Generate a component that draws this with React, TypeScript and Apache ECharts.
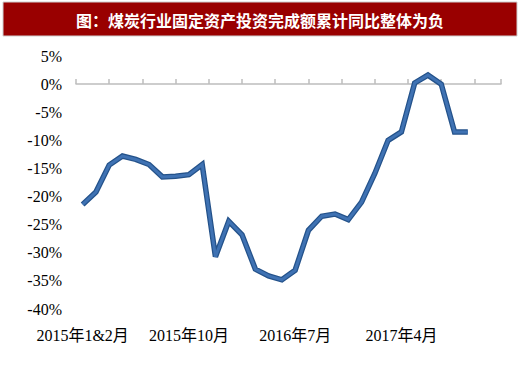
import React, { useEffect, useRef } from "react";
import * as echarts from "echarts";

const titleText = "图：煤炭行业固定资产投资完成额累计同比整体为负";

const months = [
  "2015年1&2月", "2015年3月", "2015年4月", "2015年5月", "2015年6月", "2015年7月",
  "2015年8月", "2015年9月", "2015年10月", "2015年11月", "2015年12月",
  "2016年1&2月", "2016年3月", "2016年4月", "2016年5月", "2016年6月", "2016年7月",
  "2016年8月", "2016年9月", "2016年10月", "2016年11月", "2016年12月",
  "2017年1&2月", "2017年3月", "2017年4月", "2017年5月", "2017年6月", "2017年7月",
  "2017年8月", "2017年9月",
];

const growth = [
  -21.4, -19.2, -14.4, -12.8, -13.4, -14.3, -16.5, -16.4, -16.1, -14.3,
  -30.7, -24.4, -26.8, -32.9, -34.1, -34.8, -33.1, -26.0, -23.5, -23.1,
  -24.1, -21.0, -15.9, -10.0, -8.5, 0.2, 1.6, 0.0, -8.5, -8.5,
];

const yMin = -40;
const yMax = 5;
const yStep = 5;

const serif = "'Liberation Serif', 'Times New Roman', 'Noto Sans CJK SC', serif";

export default function App() {
  const ref = useRef<HTMLDivElement>(null);

  useEffect(() => {
    if (!ref.current) return;
    const chart = echarts.init(ref.current, undefined, { renderer: "svg" });
    chart.setOption({
      animation: false,
      backgroundColor: "#ffffff",
      grid: { left: 76, right: 19, top: 56, bottom: 61 },
      graphic: [
        {
          type: "rect",
          shape: { x: 3, y: 2, width: 514, height: 34 },
          style: { fill: "#990000", stroke: "#cfcfcf", lineWidth: 1 },
        },
        {
          type: "text",
          x: 260,
          y: 20,
          style: {
            text: titleText,
            fill: "#ffffff",
            font: "bold 16px 'Noto Sans CJK SC', sans-serif",
            textAlign: "center",
            textVerticalAlign: "middle",
          },
        },
      ],
      xAxis: [
        {
          type: "category",
          data: months,
          max: months.length + 1,
          boundaryGap: true,
          axisLine: { show: false, onZero: false },
          axisTick: { show: false },
          splitLine: { show: false },
          axisLabel: {
            interval: 7,
            margin: 18,
            color: "#000000",
            fontSize: 16,
            fontFamily: serif,
          },
        },
        {
          type: "value",
          min: 0,
          max: months.length + 2,
          interval: 2.5,
          position: "bottom",
          axisLine: { show: true, onZero: true, lineStyle: { color: "#bdbdbd", width: 1.5 } },
          axisTick: { show: true, inside: true, length: 5, lineStyle: { color: "#bdbdbd", width: 1.5 } },
          axisLabel: { show: false },
          splitLine: { show: false },
        },
      ],
      yAxis: {
        type: "value",
        min: yMin,
        max: yMax,
        interval: yStep,
        axisLine: { show: false },
        axisTick: { show: false },
        splitLine: { show: false },
        axisLabel: {
          formatter: (v: number) => `${v}%`,
          margin: 14,
          color: "#000000",
          fontSize: 16,
          fontFamily: serif,
        },
      },
      series: [
        {
          type: "line",
          xAxisIndex: 0,
          data: growth,
          showSymbol: false,
          symbol: "none",
          lineStyle: { color: "#24528a", width: 5.5, join: "miter", cap: "butt" },
          z: 2,
        },
        {
          type: "line",
          xAxisIndex: 0,
          data: growth,
          showSymbol: false,
          symbol: "none",
          lineStyle: { color: "#3f72b3", width: 3, join: "miter", cap: "butt" },
          z: 3,
        },
      ],
    });
    return () => chart.dispose();
  }, []);

  return (
    <div
      ref={ref}
      style={{ position: "absolute", left: 0, top: 0, width: 520, height: 370 }}
    />
  );
}
